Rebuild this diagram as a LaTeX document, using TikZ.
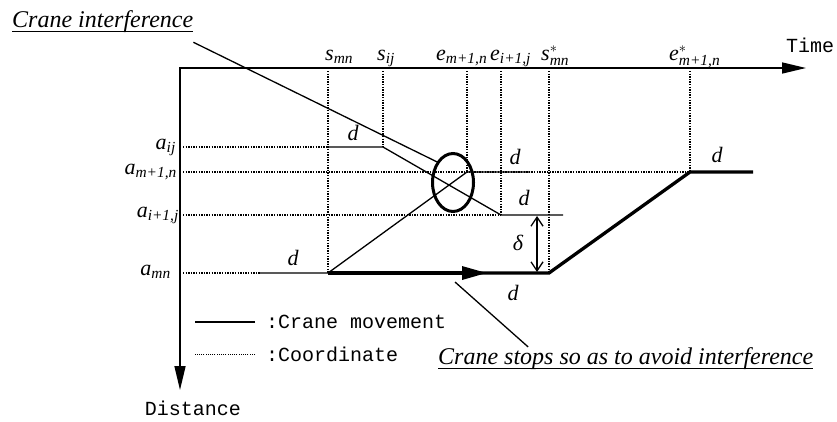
\documentclass[tikz,border=0pt]{standalone}
\usepackage{amsmath}
\usepackage{fontspec}
\setmainfont{Liberation Serif}
\setmonofont{Liberation Mono}
\usetikzlibrary{arrows.meta, positioning, shapes.geometric, calc}

\begin{document}
\begin{tikzpicture}[x=1pt, y=-1pt,
        axis/.style={line width=1.6pt},
        grid/.style={line width=1.3pt, dash pattern=on 1.3pt off 1.3pt},
        move/.style={line width=1.3pt},
        halt/.style={line width=3.3pt},
        tlabel/.style={anchor=base west, inner sep=0, font=\fontsize{22}{24}\selectfont},
        alabel/.style={anchor=base east, inner sep=0, font=\fontsize{22}{24}\selectfont},
        dlabel/.style={inner sep=0, font=\fontsize{22}{24}\selectfont\itshape},
        mono/.style={inner sep=0, font=\fontsize{20}{22}\selectfont\ttfamily},
        note/.style={anchor=base west, inner sep=0, font=\fontsize{24}{28}\selectfont\itshape}
    ]
        \useasboundingbox (0,0) rectangle (837,421);

        % Axes
        \coordinate (origin) at (180,68);
        \coordinate (tend) at (806,68);
        \coordinate (dend) at (180,390);
        \draw[axis, {Triangle[length=24pt, width=11pt]}-{Triangle[length=24pt, width=11pt]}] (tend) -- (origin) -- (dend);
        \node[mono] (time) at (810,45) {Time};
        \node[mono] (dist) at (193,408) {Distance};

        % Time marks
        \node[tlabel] (smn) at (325,60) {$\textit{s}_{\textit{mn}}$};
        \node[tlabel] (sij) at (377,60) {$\textit{s}_{\textit{ij}}$};
        \node[tlabel] (emn) at (436,60) {$\textit{e}_{\textit{m+1,n}}$};
        \node[tlabel] (eij) at (490,60) {$\textit{e}_{\textit{i+1,j}}$};
        \node[tlabel] (smnstar) at (541,60) {$\textit{s}^{*}_{\textit{mn}}$};
        \node[tlabel] (emnstar) at (669,60) {$\textit{e}^{*}_{\textit{m+1,n}}$};

        % Distance marks
        \node[alabel] (aij) at (176,149) {$\textit{a}_{\textit{ij}}$};
        \node[alabel] (amn1) at (177,174) {$\textit{a}_{\textit{m+1,n}}$};
        \node[alabel] (aij1) at (179,217) {$\textit{a}_{\textit{i+1,j}}$};
        \node[alabel] (amn) at (171,275) {$\textit{a}_{\textit{mn}}$};

        % Coordinate lines
        \draw[grid] (328,71) -- (328,273);
        \draw[grid] (383,71) -- (383,147);
        \draw[grid] (467,71) -- (467,172);
        \draw[grid] (501,71) -- (501,215);
        \draw[grid] (549,71) -- (549,273);
        \draw[grid] (690,71) -- (690,172);
        \draw[grid] (183,147) -- (328,147);
        \draw[grid] (183,172) -- (690,172);
        \draw[grid] (183,215) -- (501,215);
        \draw[grid] (183,273) -- (260,273);

        % Crane movements
        \draw[move] (328,147) -- (383,147) -- (501,215) -- (563,215);
        \draw[move] (260,273) -- (328,273) -- (467,172) -- (530,172);

        % Crane stops and waits
        \draw[halt] (328,273) -- (549,273) -- (690,172) -- (753,172);
        \draw[halt, -{Triangle[length=25pt, width=13pt]}] (328,273) -- (487,273);

        % Safety gap
        \draw[move, {Straight Barb[length=9pt, width=12pt]}-{Straight Barb[length=9pt, width=12pt]}] (537,216) -- (537,272);
        \node[dlabel] (gap) at (518,243) {δ};

        % Durations
        \node[dlabel] (dij) at (353,133) {d};
        \node[dlabel] (dmn1) at (515,157) {d};
        \node[dlabel] (dij1) at (524,198) {d};
        \node[dlabel] (dmn) at (293,258) {d};
        \node[dlabel] (dwait) at (513,293) {d};
        \node[dlabel] (dmnstar) at (717,155) {d};

        % Interference
        \node[draw, ellipse, line width=3pt, minimum width=41pt, minimum height=58pt, inner sep=0] (clash) at (453,182.5) {};
        \node[note] (ci) at (12,27) {Crane interference};
        \draw[line width=1pt] ([yshift=-4pt]ci.base west) -- ([yshift=-4pt]ci.base east);
        \draw[move] ([yshift=-10pt]ci.south east) -- (clash.128);

        \node[note] (cs) at (438,364) {Crane stops so as to avoid interference};
        \draw[line width=1pt] ([yshift=-4pt]cs.base west) -- ([yshift=-4pt]cs.base east);
        \coordinate (stoptip) at (455,282);
        \draw[move] ($(cs.north west)!0.24!(cs.north east)$) -- (stoptip);

        % Legend
        \node[mono, anchor=west] (lgmove) at (266,322) {:Crane movement};
        \node[mono, anchor=west] (lgcoord) at (266,354) {:Coordinate};
        \draw[move] ([xshift=-11pt]lgmove.west) -- ++(-60,0);
        \draw[line width=1pt, dash pattern=on 1pt off 1.2pt] ([xshift=-11pt]lgcoord.west) -- ++(-60,0);
    \end{tikzpicture}
\end{document}
